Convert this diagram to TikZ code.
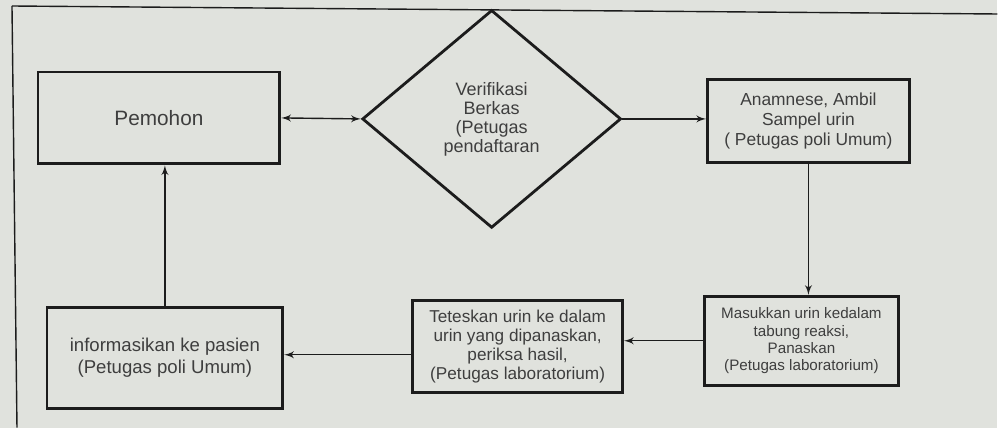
\documentclass[tikz,border=0pt]{standalone}
\usepackage{fontspec}
\setmainfont{Liberation Sans}
\usetikzlibrary{arrows,shapes,positioning}
\definecolor{latar}{RGB}{224,226,221}
\definecolor{tinta}{RGB}{62,62,62}
\definecolor{garis}{RGB}{28,28,28}

\begin{document}
\begin{tikzpicture}[x=0.5pt,y=-0.5pt,
	proses/.style={rectangle,draw=garis,line width=1.4pt,inner sep=0pt,align=center,text=tinta},
	putusan/.style={diamond,draw=garis,line width=1.4pt,inner sep=0pt,align=center,text=tinta},
	panah/.style={-latex',draw=garis,line width=0.7pt}]

		% latar foto dan tepi halaman
		\fill[latar] (0,0) rectangle (998,428);
		\draw[garis,line width=0.7pt] (12,6) -- (998,14);
		\draw[garis,line width=0.7pt] (12,6) -- (17,428);

		\node[proses, minimum width=121pt, minimum height=46pt, font=\fontsize{10.4}{12}\selectfont] (pemohon) at (159,118) {Pemohon};
		\node[putusan, minimum width=129.5pt, minimum height=109pt, font=\fontsize{9}{9.5}\selectfont] (verif) at (492,119) {Verifikasi\\Berkas\\(Petugas\\pendaftaran};
		\node[proses, minimum width=101pt, minimum height=41.5pt, font=\fontsize{8.7}{10}\selectfont] (anam) at (809,121) {Anamnese, Ambil\\Sampel urin\\( Petugas poli Umum)};
		\node[proses, minimum width=97pt, minimum height=44.5pt, font=\fontsize{7.6}{8.7}\selectfont] (masuk) at (802,341) {Masukkan urin kedalam\\tabung reaksi,\\Panaskan\\(Petugas laboratorium)};
		\node[proses, minimum width=105pt, minimum height=46pt, font=\fontsize{8.6}{9.5}\selectfont] (tetes) at (518,347) {Teteskan urin ke dalam\\urin yang dipanaskan,\\periksa hasil,\\(Petugas laboratorium)};
		\node[proses, minimum width=118pt, minimum height=50.5pt, font=\fontsize{9.3}{10.8}\selectfont] (info) at (165,358) {informasikan ke pasien\\(Petugas poli Umum)};

		\draw[panah, latex'-latex'] (pemohon.east) -- (verif.west);
		\draw[panah] (verif.east) -- (verif.east -| anam.west);
		\draw[panah] (anam.south) -- (anam.south |- masuk.north);
		\draw[panah] (masuk.west) -- (masuk.west -| tetes.east);
		\draw[panah] ([yshift=-4pt]tetes.west) -- ([yshift=-4pt]tetes.west -| info.east);
		\draw[panah] (info.north) -- (info.north |- pemohon.south);
	\end{tikzpicture}
\end{document}
